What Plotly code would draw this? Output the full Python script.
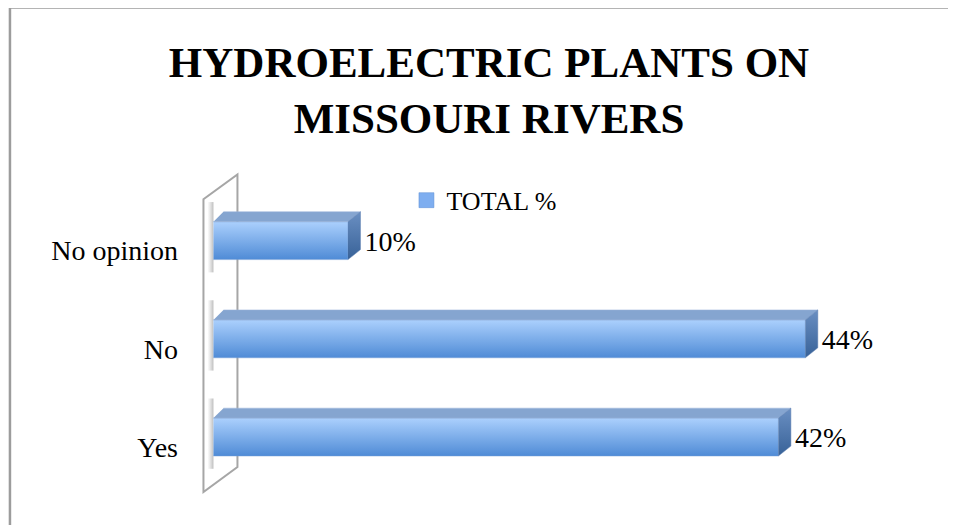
import plotly.graph_objects as go

# ---- data ----
categories = ["Yes", "No", "No opinion"]
values = [42, 44, 10]
value_labels = ["42%", "44%", "10%"]
series_name = "TOTAL %"
title_lines = ["HYDROELECTRIC PLANTS ON", "MISSOURI RIVERS"]

# ---- geometry (in axis units) ----
H = 0.193      # half bar height
DX = 0.93      # 3D depth, x units
DY = 0.1017    # 3D depth, y units
FONT = "Liberation Serif"

FRONT_TOP = "#abd0fd"
FRONT_BOT = "#4f8bd6"
TOP_FACE = "#85a5d0"
SIDE_TOP = "#6a8fc2"
SIDE_BOT = "#386298"

fig = go.Figure()

# shadows on wall
for i, v in enumerate(values):
    fig.add_trace(go.Scatter(
        x=[-0.45, 0, 0, -0.45], y=[i - H - 0.13, i - H - 0.13, i + H + 0.2, i + H + 0.2],
        fill="toself", mode="lines", line=dict(width=0),
        fillgradient=dict(type="horizontal",
                          colorscale=[[0, "rgba(150,150,150,0)"], [1, "rgba(110,110,110,0.45)"]]),
        hoverinfo="skip", showlegend=False))

for i, v in enumerate(values):
    # front face
    fig.add_trace(go.Scatter(
        x=[0, v, v, 0], y=[i - H, i - H, i + H, i + H],
        fill="toself", mode="lines", line=dict(width=0.6, color="rgba(120,160,215,0.8)"),
        fillgradient=dict(type="vertical", colorscale=[[0, FRONT_BOT], [1, FRONT_TOP]]),
        hoverinfo="skip", showlegend=False))
    # top face
    fig.add_trace(go.Scatter(
        x=[0, v, v + DX, DX * 0.8], y=[i + H, i + H, i + H + DY, i + H + DY],
        fill="toself", mode="lines", line=dict(width=0.6, color="rgba(160,185,220,0.9)"),
        fillcolor=TOP_FACE, hoverinfo="skip", showlegend=False))
    # side face
    fig.add_trace(go.Scatter(
        x=[v, v + DX, v + DX, v], y=[i - H, i - H + DY, i + H + DY, i + H],
        fill="toself", mode="lines", line=dict(width=0.6, color="rgba(90,125,175,0.8)"),
        fillgradient=dict(type="vertical", colorscale=[[0, SIDE_BOT], [1, SIDE_TOP]]),
        hoverinfo="skip", showlegend=False))

# value labels
fig.add_trace(go.Scatter(
    x=[v + DX + 0.3 for v in values], y=[i - 0.03 for i in range(len(values))],
    mode="text", text=value_labels, textposition="middle right",
    textfont=dict(family=FONT, size=28, color="#000"),
    hoverinfo="skip", showlegend=False))

# legend entry
fig.add_trace(go.Scatter(
    x=[None], y=[None], mode="markers", name=series_name,
    marker=dict(symbol="square", size=15, color="#7eaef0",
                line=dict(width=0.5, color="#5f90d5")),
    showlegend=True))

# wall (3D side panel)
wx0, wx1 = -0.743, 1.784
fig.add_shape(type="path", xref="x", yref="y", layer="below",
              path=f"M {wx0},2.421 L {wx0},-0.5595 L {wx1},-0.305 L {wx1},2.675 Z",
              line=dict(color="#a6a6a6", width=2), fillcolor="rgba(255,255,255,0)")

# outer frame (cut off at right/bottom)
fig.add_shape(type="rect", xref="paper", yref="paper",
              x0=(9.5 - 199.55) / 686, x1=2.0, y0=-1.0, y1=(496 - 7) / 329.3,
              line=dict(color="#9c9c9c", width=2.5), fillcolor="rgba(0,0,0,0)")

fig.update_layout(
    width=956, height=525,
    margin=dict(l=191.55, r=78.45, t=158.7, b=37.3),
    paper_bgcolor="white", plot_bgcolor="white",
    title=dict(text="<br>".join(title_lines), x=481 / 956, xanchor="center",
               xref="container", yref="container", y=1 - 69 / 525, yanchor="top",
               font=dict(family=FONT, size=43, color="#000", weight="bold")),
    xaxis=dict(range=[-1, 50], visible=False, fixedrange=True),
    yaxis=dict(range=[-0.6, 2.75], tickvals=[i - 0.1 for i in range(len(categories))],
               ticktext=categories, showgrid=False, zeroline=False, showline=False,
               ticks="", ticklabelstandoff=21, fixedrange=True,
               tickfont=dict(family=FONT, size=28, color="#000")),
    showlegend=True,
    legend=dict(x=(406 - 199.55) / 686, xanchor="left", y=(496 - 200) / 329.3, yanchor="middle",
                font=dict(family=FONT, size=26, color="#000"), bgcolor="rgba(0,0,0,0)",
                borderwidth=0),
)

fig.write_html("out.html")
